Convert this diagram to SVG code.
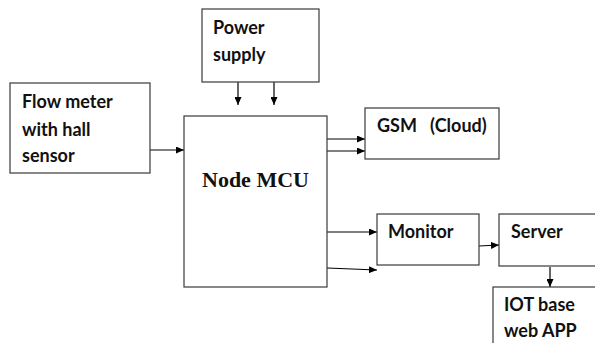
<svg xmlns="http://www.w3.org/2000/svg" width="595" height="343" viewBox="0 0 595 343">
<defs>
<marker id="ah" markerWidth="8" markerHeight="7" refX="8" refY="3.5" orient="auto" markerUnits="userSpaceOnUse">
<path d="M0,0 L8,3.5 L0,7 Z" fill="#000"/>
</marker>
<style>
.box{fill:#fff;stroke:#3a3a3a;stroke-width:1.2}
.lbl{font-family:Lato,"Open Sans",sans-serif;font-weight:bold;font-size:18px;fill:#111}
.mcu{font-family:"Liberation Serif",serif;font-weight:bold;font-size:22px;fill:#111}
.cn{stroke:#000;stroke-width:1.2;fill:none;marker-end:url(#ah)}
</style>
</defs>
<rect width="595" height="343" fill="#fff"/>
<g id="connectors">
<line class="cn" x1="150" y1="150" x2="184" y2="150"/>
<line class="cn" x1="238" y1="82" x2="238" y2="105"/>
<line class="cn" x1="274" y1="82" x2="274" y2="105"/>
<line class="cn" x1="327" y1="139" x2="365" y2="139"/>
<line class="cn" x1="327" y1="151" x2="365" y2="151"/>
<line class="cn" x1="327" y1="232" x2="377" y2="232"/>
<line class="cn" x1="327" y1="268" x2="377" y2="270"/>
<line class="cn" x1="479" y1="246" x2="499" y2="245"/>
<line class="cn" x1="550" y1="267" x2="550" y2="287"/>
</g>
<g id="flow">
<rect class="box" x="10" y="83" width="140" height="90"/>
<text class="lbl" x="22" y="108">Flow meter</text>
<text class="lbl" x="22" y="136">with hall</text>
<text class="lbl" x="22" y="162">sensor</text>
</g>
<g id="power">
<rect class="box" x="202" y="9" width="117" height="73"/>
<text class="lbl" x="213" y="34">Power</text>
<text class="lbl" x="213" y="61">supply</text>
</g>
<g id="mcu">
<rect class="box" x="184" y="116" width="143" height="171"/>
<text class="mcu" x="202" y="187">Node MCU</text>
</g>
<g id="gsm">
<rect class="box" x="365" y="108" width="134" height="51"/>
<text class="lbl" x="377" y="132" xml:space="preserve">GSM   (Cloud)</text>
</g>
<g id="monitor">
<rect class="box" x="377" y="214" width="102" height="51"/>
<text class="lbl" x="388" y="238">Monitor</text>
</g>
<g id="server">
<rect class="box" x="499" y="214" width="110" height="52"/>
<text class="lbl" x="511" y="238">Server</text>
</g>
<g id="iot">
<rect class="box" x="493" y="287" width="120" height="80"/>
<text class="lbl" x="504" y="311">IOT base</text>
<text class="lbl" x="504" y="337">web APP</text>
</g>
</svg>
